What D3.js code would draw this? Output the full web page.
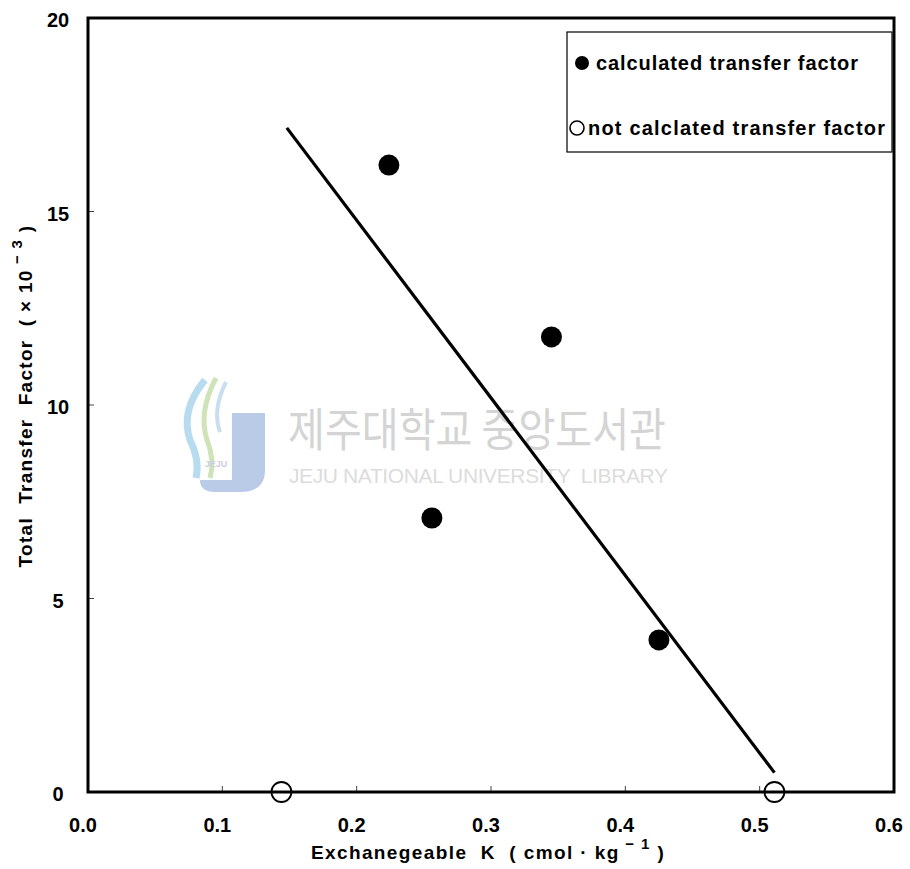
<!DOCTYPE html>
<html><head><meta charset="utf-8">
<script src="https://cdn.jsdelivr.net/npm/d3@7"></script>
<style>body{margin:0;background:#fff}svg{display:block}text{white-space:pre}</style>
</head><body>
<script>
// ---- data ----
const calcX = [0.224, 0.256, 0.345, 0.425];
const calcY = [16.2, 7.08, 11.76, 3.93];
const notX = [0.144, 0.511];
const notY = [0, 0];
const fitX = [0.148, 0.511];
const fitY = [17.16, 0.5];
const xTicks = [0, 0.1, 0.2, 0.3, 0.4, 0.5, 0.6];
const yTicks = [0, 5, 10, 15, 20];
const legendLabels = ["calculated transfer factor", "not calclated transfer factor"];

const W = 910, H = 869;
const svg = d3.select("body").append("svg").attr("width", W).attr("height", H);
const x = d3.scaleLinear().domain([0, 0.6]).range([88, 894]);
const y = d3.scaleLinear().domain([0, 20]).range([792, 18]);
const font = "'Liberation Sans', Arial, sans-serif";

// watermark
const wm = svg.append("g");
wm.append("path").attr("d", "M232,413 L265,413 L265,470 Q265,492 240,492 L215,492 Q200,492 200,480 L232,480 Z")
  .attr("fill", "#b9cbe6");
wm.append("path").attr("d", "M205,380 Q180,410 190,440 Q200,460 196,478").attr("fill", "none").attr("stroke", "#b8dcef").attr("stroke-width", 7);
wm.append("path").attr("d", "M216,378 Q198,412 207,440 Q215,460 210,478").attr("fill", "none").attr("stroke", "#cfe3b8").attr("stroke-width", 5);
wm.append("path").attr("d", "M226,382 Q212,410 220,432").attr("fill", "none").attr("stroke", "#c9def0").attr("stroke-width", 4);
wm.append("text").attr("x", 216).attr("y", 467).attr("text-anchor", "middle").attr("font-family", font)
  .attr("font-size", 9).attr("font-weight", "bold").attr("fill", "#c9cfe0").text("JEJU");
wm.append("text").attr("x", 288).attr("y", 446).attr("font-family", "'Noto Sans CJK KR'")
  .attr("font-size", 46).attr("textLength", 378).attr("lengthAdjust", "spacingAndGlyphs")
  .attr("fill", "#d4d4d4").text("제주대학교 중앙도서관");
wm.append("text").attr("x", 289).attr("y", 483).attr("font-family", font)
  .attr("font-size", 21).attr("textLength", 379)
  .attr("fill", "#dcdcdc").text("JEJU NATIONAL UNIVERSITY  LIBRARY");

// ticks (inward)
const g = svg.append("g");
g.selectAll(".xt").data(xTicks.slice(1, -1)).join("line")
  .attr("x1", d => x(d)).attr("x2", d => x(d)).attr("y1", y(0)).attr("y2", y(0) - 6)
  .attr("stroke", "#444").attr("stroke-width", 1);
g.selectAll(".yt").data(yTicks.slice(1, -1)).join("line")
  .attr("x1", x(0)).attr("x2", x(0) + 6).attr("y1", d => y(d)).attr("y2", d => y(d))
  .attr("stroke", "#444").attr("stroke-width", 1);

// frame
svg.append("rect").attr("x", x(0)).attr("y", y(20)).attr("width", x(0.6) - x(0)).attr("height", y(0) - y(20))
  .attr("fill", "none").attr("stroke", "#000").attr("stroke-width", 3);

// tick labels
svg.selectAll(".xl").data(xTicks).join("text")
  .attr("x", d => x(d) - 5).attr("y", 832).attr("text-anchor", "middle")
  .attr("font-family", font).attr("font-weight", "bold").attr("font-size", 20)
  .text(d => d3.format(".1f")(d));
svg.selectAll(".yl").data(yTicks).join("text")
  .attr("x", 58).attr("y", d => y(d) + 9).attr("text-anchor", "middle")
  .attr("font-family", font).attr("font-weight", "bold").attr("font-size", 20)
  .text(d => d);

// axis titles
const xt = svg.append("text").attr("x", 488).attr("y", 859).attr("text-anchor", "middle")
  .attr("font-family", font).attr("font-weight", "bold").attr("font-size", 19).attr("letter-spacing", 1.4);
xt.append("tspan").text("Exchanegeable  K  ( cmol · kg");
xt.append("tspan").attr("dy", -10).attr("font-size", 15).text(" − 1");
xt.append("tspan").attr("dy", 10).text(" )");

const yt = svg.append("text").attr("transform", "translate(32,396) rotate(-90)").attr("text-anchor", "middle")
  .attr("font-family", font).attr("font-weight", "bold").attr("font-size", 19).attr("letter-spacing", 1.3);
yt.append("tspan").text("Total  Transfer  Factor  ( × 10");
yt.append("tspan").attr("dy", -10).attr("font-size", 15).text(" − 3");
yt.append("tspan").attr("dy", 10).text(" )");

// fit line
svg.append("line").attr("x1", x(fitX[0])).attr("y1", y(fitY[0])).attr("x2", x(fitX[1])).attr("y2", y(fitY[1]))
  .attr("stroke", "#000").attr("stroke-width", 3.2);

// points
svg.selectAll(".cp").data(calcX).join("circle")
  .attr("cx", d => x(d)).attr("cy", (d, i) => y(calcY[i])).attr("r", 10.5).attr("fill", "#000");
svg.selectAll(".np").data(notX).join("circle")
  .attr("cx", d => x(d)).attr("cy", (d, i) => y(notY[i])).attr("r", 10)
  .attr("fill", "none").attr("stroke", "#000").attr("stroke-width", 1.8);

// legend
const lg = svg.append("g");
lg.append("rect").attr("x", 567).attr("y", 32).attr("width", 325).attr("height", 120)
  .attr("fill", "#fff").attr("stroke", "#000").attr("stroke-width", 1.2);
lg.append("circle").attr("cx", 582).attr("cy", 63).attr("r", 7).attr("fill", "#000");
lg.append("circle").attr("cx", 577).attr("cy", 128).attr("r", 7).attr("fill", "none").attr("stroke", "#000").attr("stroke-width", 1.6);
lg.append("text").attr("x", 596).attr("y", 70).attr("font-family", font).attr("font-weight", "bold")
  .attr("font-size", 20).attr("textLength", 262).text(legendLabels[0]);
lg.append("text").attr("x", 588).attr("y", 135).attr("font-family", font).attr("font-weight", "bold")
  .attr("font-size", 20).attr("textLength", 297).text(legendLabels[1]);
</script>
</body></html>
